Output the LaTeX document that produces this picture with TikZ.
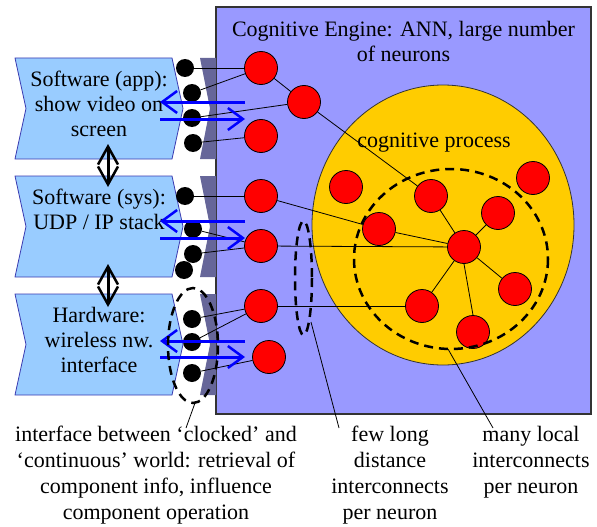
\documentclass[tikz,border=0pt]{standalone}
\usepackage{fontspec}
\setmainfont{Liberation Serif}
\usetikzlibrary{arrows.meta}
\definecolor{engine}{HTML}{9999FF}
\definecolor{boxblue}{HTML}{99CCFF}
\definecolor{boxedge}{HTML}{3A3AB0}
\definecolor{stripgray}{HTML}{666699}
\definecolor{procyellow}{HTML}{FFCC00}
\definecolor{flowblue}{HTML}{0000FF}
\begin{document}
\begin{tikzpicture}[x=1pt,y=-1pt,
  every node/.style={font=\fontsize{22pt}{25pt}\selectfont},
  neuron/.style={circle,draw=black,line width=0.8pt,fill=red,minimum size=33pt,inner sep=0pt},
  port/.style={circle,fill=black,minimum size=18pt,inner sep=0pt},
  layerbox/.style={draw=boxedge,fill=boxblue,line width=0.8pt},
  strip/.style={fill=stripgray},
  link/.style={draw=black,line width=0.8pt},
  flow/.style={draw=flowblue,line width=3pt,-{Straight Barb[length=15pt,width=22pt,line width=2.5pt]}},
  stack/.style={draw=black,line width=3pt,{Straight Barb[length=18pt,width=20pt,line width=2.5pt]}-{Straight Barb[length=18pt,width=20pt,line width=2.5pt]}},
  group/.style={draw=black,line width=2.5pt,dash pattern=on 9pt off 6pt},
  pointer/.style={draw=black,line width=0.8pt},
  caption/.style={align=center,inner sep=0pt,anchor=north,font=\fontsize{22pt}{26pt}\selectfont}
]
\useasboundingbox (0,0) rectangle (597,527);

% cognitive engine panel
\draw[fill=engine,draw=black!80,line width=1.2pt] (216,7) rectangle (591,414);
\node (title) at (403.5,41) [align=center] {Cognitive Engine: ANN, large number\\of neurons};

% interface strips
\fill[strip] (200,58) -- (216,58) -- (216,159) -- (200,159) -- (210,108.5) -- cycle;
\fill[strip] (200,176) -- (216,176) -- (216,277) -- (200,277) -- (210,226.5) -- cycle;
\fill[strip] (200,294) -- (216,294) -- (216,395) -- (200,395) -- (210,344.5) -- cycle;

% component layers
\draw[layerbox] (15,58) -- (172,58) -- (183,108.5) -- (172,159) -- (15,159) -- (26,108.5) -- cycle;
\draw[layerbox] (15,176) -- (172,176) -- (183,226.5) -- (172,277) -- (15,277) -- (26,226.5) -- cycle;
\draw[layerbox] (15,294) -- (172,294) -- (183,344.5) -- (172,395) -- (15,395) -- (26,344.5) -- cycle;
\node (app) at (99,104) [align=center] {Software (app):\\show video on\\screen};
\node (sys) at (99,209) [align=center] {Software (sys):\\UDP / IP stack};
\node (hw) at (99,340) [align=center] {Hardware:\\wireless nw.\\interface};

\draw[stack] (108,144) -- (108,187);
\draw[stack] (108,264) -- (108,307);

% cognitive process area
\draw[fill=procyellow,draw=black!80,line width=0.8pt] (443,225) ellipse [x radius=131,y radius=140];
\node (proc) at (434,143) {cognitive process};

% ports
\node[port] (p1) at (185,68) {};
\node[port] (p2) at (192,93) {};
\node[port] (p3) at (192,118) {};
\node[port] (p4) at (193,143) {};
\node[port] (p5) at (185,196) {};
\node[port] (p6) at (193,229) {};
\node[port] (p7) at (193,254) {};
\node[port] (p8) at (184,270) {};
\node[port] (p9) at (192,319) {};
\node[port] (p10) at (192,342) {};
\node[port] (p11) at (192,373) {};

% neurons near the interface
\node[neuron] (n1) at (261,68) {};
\node[neuron] (n2) at (304,102) {};
\node[neuron] (n3) at (261,136) {};
\node[neuron] (n4) at (261,196) {};
\node[neuron] (n5) at (261,246) {};
\node[neuron] (n6) at (261,306) {};
\node[neuron] (n7) at (269,357) {};

% neurons of the cognitive process
\node[neuron] (ca) at (346,187) {};
\node[neuron] (cb) at (431,196) {};
\node[neuron] (cc) at (533,178) {};
\node[neuron] (cd) at (498,213) {};
\node[neuron] (ce) at (379,229) {};
\node[neuron] (hub) at (464,247) {};
\node[neuron] (cf) at (515,289) {};
\node[neuron] (cg) at (422,306) {};
\node[neuron] (ci) at (473,332) {};

% connections
\begin{scope}[on background layer/.style={}]
\draw[link] (p1) -- (n1);
\draw[link] (p2) -- (n1);
\draw[link] (p3) -- (n2);
\draw[link] (p4) -- (n3);
\draw[link] (n1) -- (n2);
\draw[link] (n2) -- (cb);
\draw[link] (p5) -- (n4);
\draw[link] (n4) -- (ce);
\draw[link] (p6) -- (n5);
\draw[link] (p7) -- (n5);
\draw[link] (n5) -- (hub);
\draw[link] (p9) -- (n6);
\draw[link] (p10) -- (n6);
\draw[link] (n6) -- (cg);
\draw[link] (p11) -- (n7);
\draw[link] (hub) -- (cb);
\draw[link] (hub) -- (cd);
\draw[link] (hub) -- (ce);
\draw[link] (hub) -- (cf);
\draw[link] (hub) -- (cg);
\draw[link] (hub.south) -- (ci.north);
\end{scope}

% data flow arrows
\draw[flow] (245,102) -- (160,102);
\draw[flow] (160,119) -- (245,119);
\draw[flow] (245,221) -- (160,221);
\draw[flow] (160,238) -- (245,238);
\draw[flow] (245,341) -- (160,341);
\draw[flow] (160,357) -- (245,357);

% groupings
\draw[group] (193,345.5) ellipse [x radius=25,y radius=57.5];
\draw[group] (303.5,278) ellipse [x radius=8.5,y radius=57];
\draw[group] (451,259) ellipse [x radius=97,y radius=90];

% captions
\coordinate (g1) at (195,403);
\coordinate (g2) at (311,322);
\coordinate (g3) at (448,349);
\node[caption] (c1) at (156,426) {interface between ‘clocked’ and\\‘continuous’ world: retrieval of\\component info, influence\\component operation};
\node[caption] (c2) at (390,426) {few long\\distance\\interconnects\\per neuron};
\node[caption] (c3) at (531,426) {many local\\interconnects\\per neuron};
\draw[pointer] (g1) -- (186,428);
\draw[pointer] (g2) -- (339,428);
\draw[pointer] (g3) -- (493,428);
\end{tikzpicture}
\end{document}
